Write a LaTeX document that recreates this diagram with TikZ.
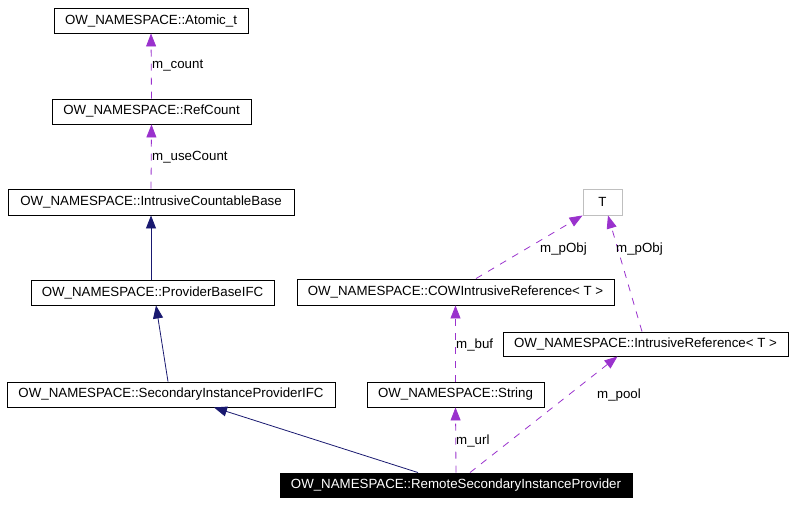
\documentclass[tikz,border=0pt]{standalone}
\usepackage{fontspec}
\setmainfont{Liberation Sans}
\usetikzlibrary{arrows.meta,calc}
\definecolor{dep}{HTML}{9A32CD}
\definecolor{inh}{HTML}{191970}
\begin{document}
\begin{tikzpicture}[x=1pt,y=-1pt,
  cls/.style={draw=black,line width=0.9pt,fill=white,inner sep=0pt,font=\fontsize{13.3}{15}\selectfont,minimum height=25pt},
  depline/.style={draw=dep,line width=0.8pt,dash pattern=on 7pt off 7pt,-{Triangle[length=13pt,width=10pt,fill=dep]}},
  inhline/.style={draw=inh,line width=0.8pt,-{Triangle[length=13pt,width=10pt,fill=inh]}},
  lbl/.style={anchor=west,inner sep=1pt,font=\fontsize{13.3}{15}\selectfont}]
\useasboundingbox (0,0) rectangle (795,504);
\node[cls,minimum width=194pt] (atomic) at (151,20.5) {OW\_NAMESPACE::Atomic\_t};
\node[cls,minimum width=199pt] (ref) at (151.5,111.5) {OW\_NAMESPACE::RefCount};
\node[cls,minimum width=286pt,minimum height=26pt] (icb) at (151,202) {OW\_NAMESPACE::IntrusiveCountableBase};
\node[cls,minimum width=243pt] (pb) at (152.5,292.5) {OW\_NAMESPACE::ProviderBaseIFC};
\node[cls,minimum width=328pt] (sip) at (171,394.5) {OW\_NAMESPACE::SecondaryInstanceProviderIFC};
\node[cls,minimum width=317pt,minimum height=26pt] (cow) at (455.5,292) {OW\_NAMESPACE::COWIntrusiveReference< T >};
\node[cls,draw=black!25,minimum width=39pt,minimum height=26pt] (T) at (602.5,202) {T};
\node[cls,minimum width=285pt,minimum height=24pt] (ir) at (645.5,344) {OW\_NAMESPACE::IntrusiveReference< T >};
\node[cls,minimum width=177pt] (str) at (455.5,394.5) {OW\_NAMESPACE::String};
\node[cls,fill=black,text=white,minimum width=352pt,minimum height=24pt] (rem) at (456,485) {OW\_NAMESPACE::RemoteSecondaryInstanceProvider};

\draw[depline] (ref.north) -- (atomic.south);
\draw[depline] (icb.north) -- (ref.south);
\draw[inhline] ($(pb.north)+(-1.5,0)$) -- (icb.south);
\draw[inhline] ($(sip.north)+(-3,0)$) -- ($(pb.south)+(3.5,0)$);
\draw[inhline] ($(rem.north)+(-38,0)$) -- ($(sip.south)+(43,0)$);
\draw[depline] (rem.north) -- (str.south);
\draw[depline] (str.north) -- (cow.south);
\draw[depline] ($(cow.north)+(20.5,0)$) -- (T.south west);
\draw[depline] ($(ir.north)+(-3.5,0)$) -- ($(T.south)+(5.5,0)$);
\draw[depline] ($(rem.north)+(14,0)$) -- ($(ir.south)+(-28,0)$);

\node[lbl] (l1) at (151,66) {m\_count};
\node[lbl] (l2) at (151,157) {m\_useCount};
\node[lbl] (l3) at (455,345) {m\_buf};
\node[lbl] (l4) at (455,441) {m\_url};
\node[lbl] (l5) at (539,249) {m\_pObj};
\node[lbl] (l6) at (615,249) {m\_pObj};
\node[lbl] (l7) at (596,395) {m\_pool};
\end{tikzpicture}
\end{document}
